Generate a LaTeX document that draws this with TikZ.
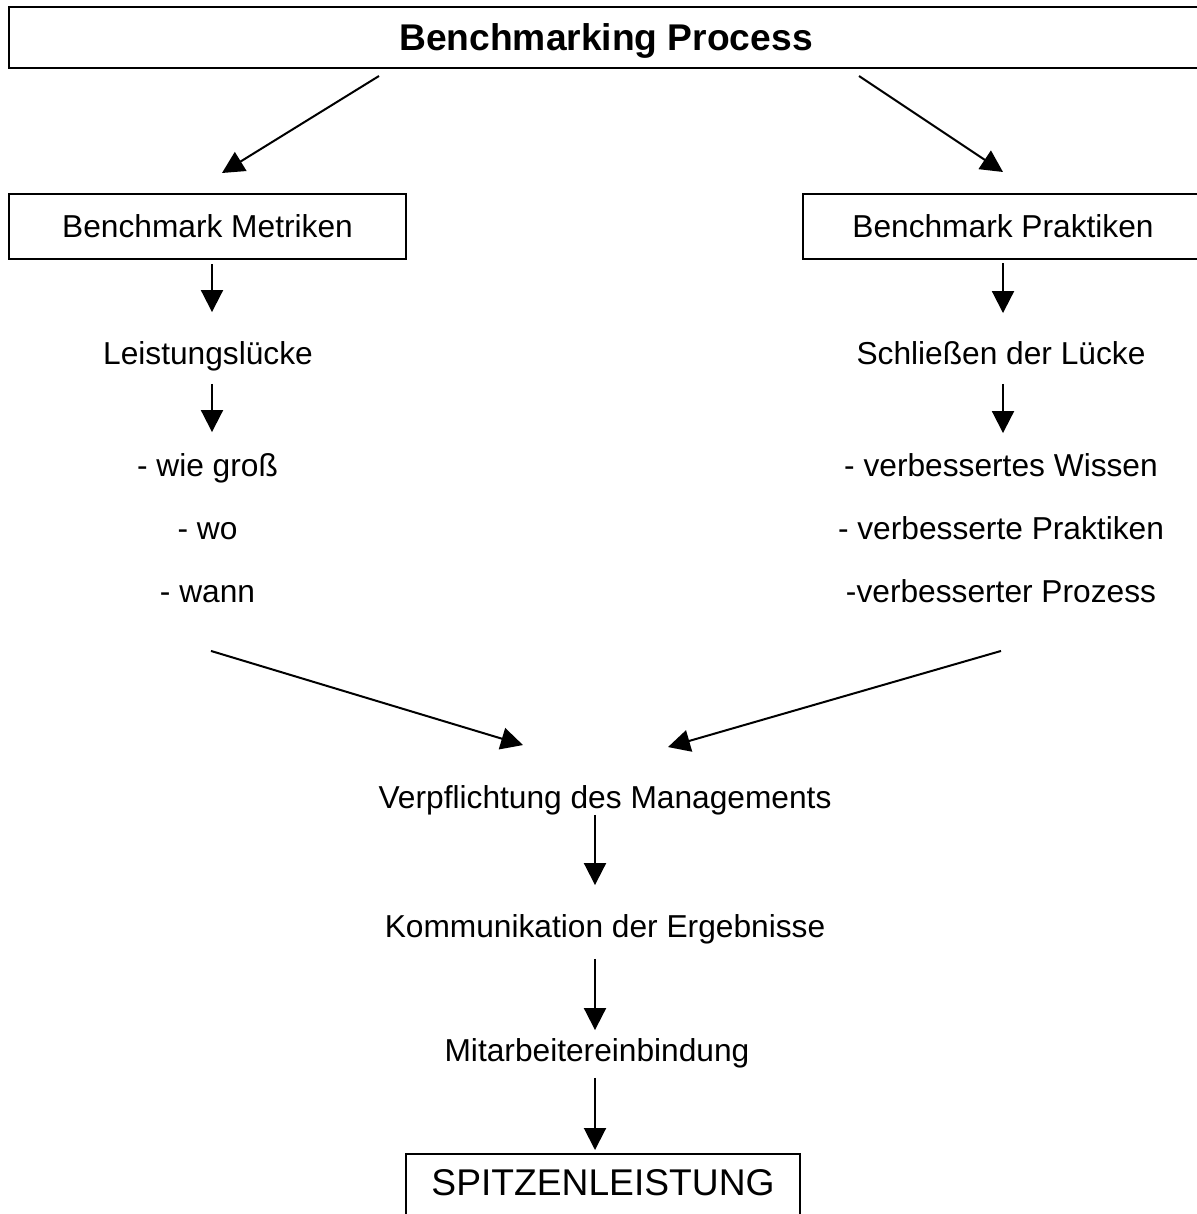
\documentclass[tikz,border=0pt]{standalone}
\usepackage{fontspec}
\setmainfont{Liberation Sans}
\usetikzlibrary{positioning,arrows.meta}
\definecolor{lineC}{HTML}{000000}
\definecolor{textC}{HTML}{000000}

\begin{document}
\begin{tikzpicture}[
  x=0.5pt, y=-0.5pt,
  every node/.style={font=\fontsize{15.85}{19}\selectfont, text=textC,
    inner sep=0pt, outer sep=0pt, text height=11.35pt, text depth=0pt},
  framebox/.style={draw=lineC, line width=1.1pt, minimum height=32.5pt},
  bigtext/.style={font=\fontsize{18.6}{22}\selectfont, text height=13.3pt},
  flow/.style={-{Triangle[length=11pt,width=11pt]}, lineC, line width=1pt},
]
\useasboundingbox (0,0) rectangle (1197,1214);
\clip (0,0) rectangle (1197,1214);

% ── Title ──
\node[framebox, bigtext, minimum width=597pt, minimum height=30.5pt]
      (title) at (606,37.5) {\bfseries Benchmarking Process};

% ── Left branch: Metriken ──
\node[framebox, minimum width=198.5pt] (metr) at (207.5,226.5) {Benchmark Metriken};
\node (luecke) at (208,353) {Leistungslücke};
\node (grosz) at (207.5,465) {- wie groß};
\node[below=20.15pt of grosz] (wo) {- wo};
\node[below=20.15pt of wo] (wann) {- wann};

% ── Right branch: Praktiken ──
\node[framebox, minimum width=200pt] (prak) at (1003,226.5) {Benchmark Praktiken};
\node (schl) at (1001,353) {Schließen der Lücke};
\node (wissen) at (1001,465) {- verbessertes Wissen};
\node[below=20.15pt of wissen] (prakt) {- verbesserte Praktiken};
\node[below=20.15pt of prakt] (prozess) {-verbesserter Prozess};

% ── Centre column ──
\node (verpf) at (605,797) {Verpflichtung des Managements};
\node (komm) at (605,926) {Kommunikation der Ergebnisse};
\node (mitar) at (597,1050) {Mitarbeitereinbindung};
\node[framebox, bigtext, anchor=north, minimum width=197pt, minimum height=0pt,
      inner ysep=7.35pt, text depth=11.5pt] (spitz) at (603,1154) {SPITZENLEISTUNG};

% ── Arrows ──
\draw[flow] ([xshift=-113.5pt,yshift=-4pt]title.south) -- ([xshift=7.25pt,yshift=10.5pt]metr.north);
\draw[flow] ([xshift=126.5pt,yshift=-4pt]title.south) -- ([yshift=11pt]prak.north);

\draw[flow] ([xshift=2.25pt,yshift=-2.5pt]metr.south) -- ([xshift=2pt,yshift=14.8pt]luecke.north);
\draw[flow] ([xshift=2pt,yshift=-9.8pt]luecke.south) -- ([xshift=2.25pt,yshift=10.8pt]grosz.north);
\draw[flow] ([yshift=-2pt]prak.south) -- ([xshift=1pt,yshift=14.3pt]schl.north);
\draw[flow] ([xshift=1pt,yshift=-9.8pt]schl.south) -- ([xshift=1pt,yshift=10.3pt]wissen.north);

\draw[flow] ([xshift=1.75pt,yshift=-24.3pt]wann.south) -- ([xshift=-41pt,yshift=20.3pt]verpf.north);
\draw[flow] ([yshift=-24.3pt]prozess.south) -- ([xshift=31.5pt,yshift=19.3pt]verpf.north);

\draw[flow] ([xshift=-5pt,yshift=-3.3pt]verpf.south) -- ([xshift=-5pt,yshift=14.8pt]komm.north);
\draw[flow] ([xshift=-5pt,yshift=-10.8pt]komm.south) -- ([xshift=-1pt,yshift=4.3pt]mitar.north);
\draw[flow] ([xshift=-1pt,yshift=-8.3pt]mitar.south) -- ([xshift=-4pt,yshift=2pt]spitz.north);

\end{tikzpicture}
\end{document}
